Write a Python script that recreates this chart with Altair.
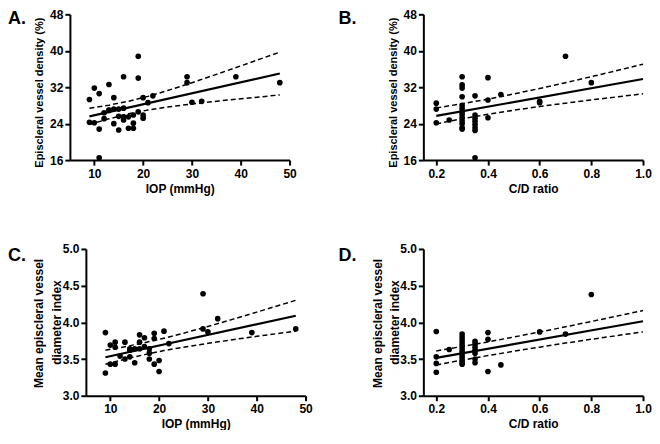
import altair as alt
import pandas as pd

FONT = "Liberation Sans"

# ---------------- Panel A: IOP vs episcleral vessel density ----------------
a_iop = [9, 10, 11, 13, 16, 19, 19, 14, 20, 22, 21, 29, 29, 30, 32, 39, 48, 9, 10, 11,
         11, 12, 12, 13, 13, 14, 14, 15, 15, 15, 16, 16, 16, 17, 17, 18, 18, 18, 19, 20, 20]
a_density = [29.3, 31.8, 30.6, 32.6, 34.3, 38.8, 34.0, 29.7, 29.7, 30.1, 28.6, 34.3, 33.0, 28.7,
             28.9, 34.3, 33.0, 24.3, 24.2, 22.8, 16.5, 25.1, 26.4, 26.9, 27.0, 27.2, 24.0, 27.2,
             25.6, 22.6, 27.4, 25.5, 24.8, 25.5, 23.0, 25.9, 24.1, 23.0, 26.6, 25.9, 25.2]
a_fit_x = [9, 48]
a_fit_y = [25.6, 35.0]
a_band_x = [9, 13, 17, 21, 25, 30, 35, 40, 48]
a_band_hi = [27.4, 28.06, 28.91, 29.99, 31.26, 32.99, 34.82, 36.68, 39.7]
a_band_lo = [23.8, 25.06, 26.15, 26.99, 27.66, 28.33, 28.92, 29.46, 30.3]

# ---------------- Panel B: C/D ratio vs episcleral vessel density ----------------
b_cd = [0.2, 0.2, 0.2, 0.25,
        0.3, 0.3, 0.3, 0.3, 0.3, 0.3, 0.3, 0.3, 0.3, 0.3, 0.3, 0.3, 0.3,
        0.35, 0.35, 0.35, 0.35, 0.35, 0.35, 0.35, 0.35,
        0.4, 0.4, 0.4, 0.45, 0.6, 0.6, 0.7, 0.8]
b_density = [28.5, 27.2, 24.2, 24.8,
             34.3, 32.5, 31.8, 29.9, 28.0, 27.3, 26.6, 26.0, 25.3, 24.6, 24.0, 23.1, 22.8,
             30.1, 25.9, 25.2, 24.5, 23.8, 23.1, 22.5, 16.5,
             34.1, 29.2, 25.3, 30.4, 28.9, 28.6, 38.8, 33.0]
b_fit_x = [0.2, 1.0]
b_fit_y = [25.7, 33.8]
b_band_x = [0.2, 0.3, 0.4, 0.5, 0.6, 0.7, 0.8, 0.9, 1.0]
b_band_hi = [27.45, 28.37, 29.39, 30.51, 31.72, 33.0, 34.31, 35.66, 37.05]
b_band_lo = [23.95, 25.06, 26.05, 26.95, 27.76, 28.5, 29.21, 29.88, 30.55]

# ---------------- Panel C: IOP vs mean diameter index ----------------
c_iop = [9, 9, 10, 10, 11, 11, 11, 12, 13, 13, 14, 14, 14, 15, 15, 16, 16, 16, 17, 17,
         18, 18, 18, 19, 19, 19, 20, 20, 21, 22, 29, 29, 30, 32, 39, 48]
c_diam = [3.86, 3.31, 3.69, 3.43, 3.73, 3.66, 3.43, 3.54, 3.73, 3.50, 3.64, 3.62, 3.53, 3.64,
          3.45, 3.83, 3.73, 3.64, 3.79, 3.67, 3.64, 3.58, 3.50, 3.85, 3.78, 3.43, 3.48, 3.33,
          3.88, 3.71, 4.39, 3.91, 3.87, 4.05, 3.86, 3.91]
c_fit_x = [9, 48]
c_fit_y = [3.525, 4.09]
c_band_x = [9, 13, 17, 21, 25, 30, 35, 40, 48]
c_band_hi = [3.62, 3.668, 3.722, 3.784, 3.852, 3.944, 4.04, 4.139, 4.30]
c_band_lo = [3.43, 3.499, 3.56, 3.615, 3.662, 3.714, 3.763, 3.809, 3.88]

# ---------------- Panel D: C/D ratio vs mean diameter index ----------------
d_cd = [0.2, 0.2, 0.2, 0.2, 0.25,
        0.3, 0.3, 0.3, 0.3, 0.3, 0.3, 0.3, 0.3, 0.3, 0.3, 0.3, 0.3,
        0.35, 0.35, 0.35, 0.35, 0.35, 0.35, 0.35,
        0.4, 0.4, 0.4, 0.45, 0.6, 0.7, 0.8]
d_diam = [3.875, 3.53, 3.44, 3.32, 3.63,
          3.84, 3.80, 3.76, 3.72, 3.68, 3.64, 3.60, 3.56, 3.52, 3.48, 3.45, 3.43,
          3.74, 3.70, 3.66, 3.62, 3.58, 3.50, 3.45,
          3.86, 3.77, 3.33, 3.42, 3.87, 3.84, 4.38]
d_fit_x = [0.2, 1.0]
d_fit_y = [3.515, 4.015]
d_band_x = [0.2, 0.3, 0.4, 0.5, 0.6, 0.7, 0.8, 0.9, 1.0]
d_band_hi = [3.61, 3.671, 3.733, 3.80, 3.868, 3.939, 4.011, 4.086, 4.16]
d_band_lo = [3.42, 3.485, 3.547, 3.606, 3.662, 3.717, 3.769, 3.82, 3.87]

iop_ticks = [10, 20, 30, 40, 50]
cd_ticks = [0.2, 0.4, 0.6, 0.8, 1.0]
density_ticks = [16, 24, 32, 40, 48]
diam_ticks = [3.0, 3.5, 4.0, 4.5, 5.0]

PLOT_W = 220
# half of the drawn length of the second title line ("diameter index", 12px bold)
LINE2_HALF = 42


def panel(xs, ys, fit_x, fit_y, band_x, band_hi, band_lo,
          xdom, xvals, xfmt, xtitle, ydom, yvals, yfmt, ytitle,
          letter, letter_x, letter_y, ytitle_size, ytitle_x, ytitle_y, h,
          inset=0, ytitle2=None):
    pts = pd.DataFrame({"x": xs, "y": ys})
    fit = pd.DataFrame({"x": fit_x, "y": fit_y})
    n = len(band_x)
    band = pd.DataFrame({"x": band_x + band_x, "y": band_hi + band_lo,
                         "b": ["hi"] * n + ["lo"] * n})
    w = PLOT_W + inset
    xscale = alt.Scale(domain=xdom, nice=False, zero=False, range=[inset, w])
    ex = alt.X("x:Q", scale=xscale,
               axis=alt.Axis(values=xvals, format=xfmt, title=xtitle,
                             labelPadding=3, titleX=inset + PLOT_W / 2, titleY=23,
                             titleAlign="center", titleBaseline="top"))
    ey = alt.Y("y:Q", scale=alt.Scale(domain=ydom, nice=False, zero=False),
               axis=alt.Axis(values=yvals, format=yfmt, title=ytitle, offset=-inset,
                             labelPadding=2, titleFontSize=ytitle_size,
                             titleX=ytitle_x, titleY=ytitle_y,
                             titleAngle=270, titleAlign="center",
                             titleBaseline="middle"))
    points = alt.Chart(pts).mark_circle(size=32, color="black", opacity=1).encode(x=ex, y=ey)
    fitline = alt.Chart(fit).mark_line(color="black", strokeWidth=2.2).encode(x=ex, y=ey)
    bands = alt.Chart(band).mark_line(color="black", strokeWidth=1.5,
                                      strokeDash=[5, 3]).encode(x=ex, y=ey, detail="b:N")
    lab = alt.Chart(pd.DataFrame({"t": [letter]})).mark_text(
        align="left", baseline="top", fontSize=18, fontWeight="bold",
        font=FONT, color="black").encode(
        text="t:N", x=alt.value(letter_x), y=alt.value(letter_y))
    layers = [points, fitline, bands, lab]
    if ytitle2 is not None:
        second = alt.Chart(pd.DataFrame({"t": [ytitle2]})).mark_text(
            align="left", baseline="middle", angle=270, fontSize=ytitle_size,
            fontWeight="bold", font=FONT, color="black").encode(
            text="t:N", x=alt.value(inset + ytitle_x + 18),
            y=alt.value(ytitle_y + LINE2_HALF))
        layers.append(second)
    return alt.layer(*layers).properties(width=w, height=h)


A = panel(a_iop, a_density, a_fit_x, a_fit_y, a_band_x, a_band_hi, a_band_lo,
          [5, 50], iop_ticks, "d", "IOP (mmHg)", [16, 48], density_ticks, "d",
          "Episcleral vessel density (%)", "A.", -62, -4, 11, -30, 78, 146)
B = panel(b_cd, b_density, b_fit_x, b_fit_y, b_band_x, b_band_hi, b_band_lo,
          [0.15, 1.0], cd_ticks, ".1f", "C/D ratio", [16, 48], density_ticks, "d",
          "Episcleral vessel density (%)", "B.", -85, -4, 11, -30, 78, 146)
C = panel(c_iop, c_diam, c_fit_x, c_fit_y, c_band_x, c_band_hi, c_band_lo,
          [5, 50], iop_ticks, "d", "IOP (mmHg)", [3.0, 5.0], diam_ticks, ".1f",
          "Mean episcleral vessel", "C.", -62, -2, 12, -47, 74, 147,
          inset=16, ytitle2="diameter index")
D = panel(d_cd, d_diam, d_fit_x, d_fit_y, d_band_x, d_band_hi, d_band_lo,
          [0.15, 1.0], cd_ticks, ".1f", "C/D ratio", [3.0, 5.0], diam_ticks, ".1f",
          "Mean episcleral vessel", "D.", -85, -2, 12, -46, 74, 147,
          ytitle2="diameter index")

row1 = alt.hconcat(A, B, spacing=42)
row2 = alt.hconcat(C, D, spacing=26)

chart = alt.vconcat(row1, row2, spacing=49).properties(padding=0).configure_view(
    strokeWidth=0
).configure_axis(
    domainColor="black", domainWidth=2, tickColor="black", tickWidth=2, tickSize=5,
    labelFont=FONT, labelFontSize=12, labelFontWeight="bold", labelColor="black",
    titleFont=FONT, titleFontSize=12, titleFontWeight="bold", titleColor="black",
    grid=False, labelFlush=False
)

chart.save("out.html", embed_options={"renderer": "svg", "actions": False})
